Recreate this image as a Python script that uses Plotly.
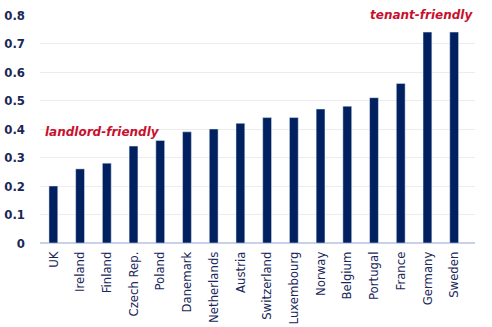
import plotly.graph_objects as go

countries = ["UK", "Ireland", "Finland", "Czech Rep.", "Poland", "Danemark", "Netherlands",
             "Austria", "Switzerland", "Luxembourg", "Norway", "Belgium", "Portugal",
             "France", "Germany", "Sweden"]
values = [0.20, 0.26, 0.28, 0.34, 0.36, 0.39, 0.40, 0.42, 0.44, 0.44, 0.47, 0.48, 0.51,
          0.56, 0.74, 0.74]
y_ticks = [0, 0.1, 0.2, 0.3, 0.4, 0.5, 0.6, 0.7, 0.8]

navy = "#002060"
txt = "#1a2858"
red = "#c8102e"
font = "DejaVu Sans Condensed"

fig = go.Figure(go.Bar(x=countries, y=values, marker_color=navy, width=0.33))

fig.update_layout(
    width=492, height=327,
    margin=dict(l=40, r=17, t=15, b=84),
    plot_bgcolor="white", paper_bgcolor="white",
    showlegend=False,
    font=dict(family=font, color=txt, size=12),
)
fig.update_xaxes(tickangle=-90, tickfont=dict(family=font, size=13, color=txt),
                 showgrid=False, showline=False, ticks="", automargin=False,
                 ticklabelstandoff=5)
fig.update_yaxes(range=[0, 0.8], tickvals=y_ticks, ticktext=[f"{v:g}" for v in y_ticks],
                 showgrid=True, gridcolor="#ececec", gridwidth=1,
                 zeroline=True, zerolinecolor="#c8d0ec", zerolinewidth=1.5,
                 tickfont=dict(family=font, size=13, color=txt, weight="bold"), ticks="",
                 ticklabelstandoff=14, automargin=False)

fig.add_annotation(x=-0.37, y=0.39, xref="x", yref="y", text="<i>landlord-friendly</i>",
                   showarrow=False, xanchor="left", yanchor="middle",
                   font=dict(family="DejaVu Sans", size=12, color=red, weight=600))
fig.add_annotation(x=15.78, y=0.80, xref="x", yref="y", text="<i>tenant-friendly</i>",
                   showarrow=False, xanchor="right", yanchor="middle",
                   font=dict(family="DejaVu Sans", size=12, color=red, weight=600))

fig.write_html("out.html")
